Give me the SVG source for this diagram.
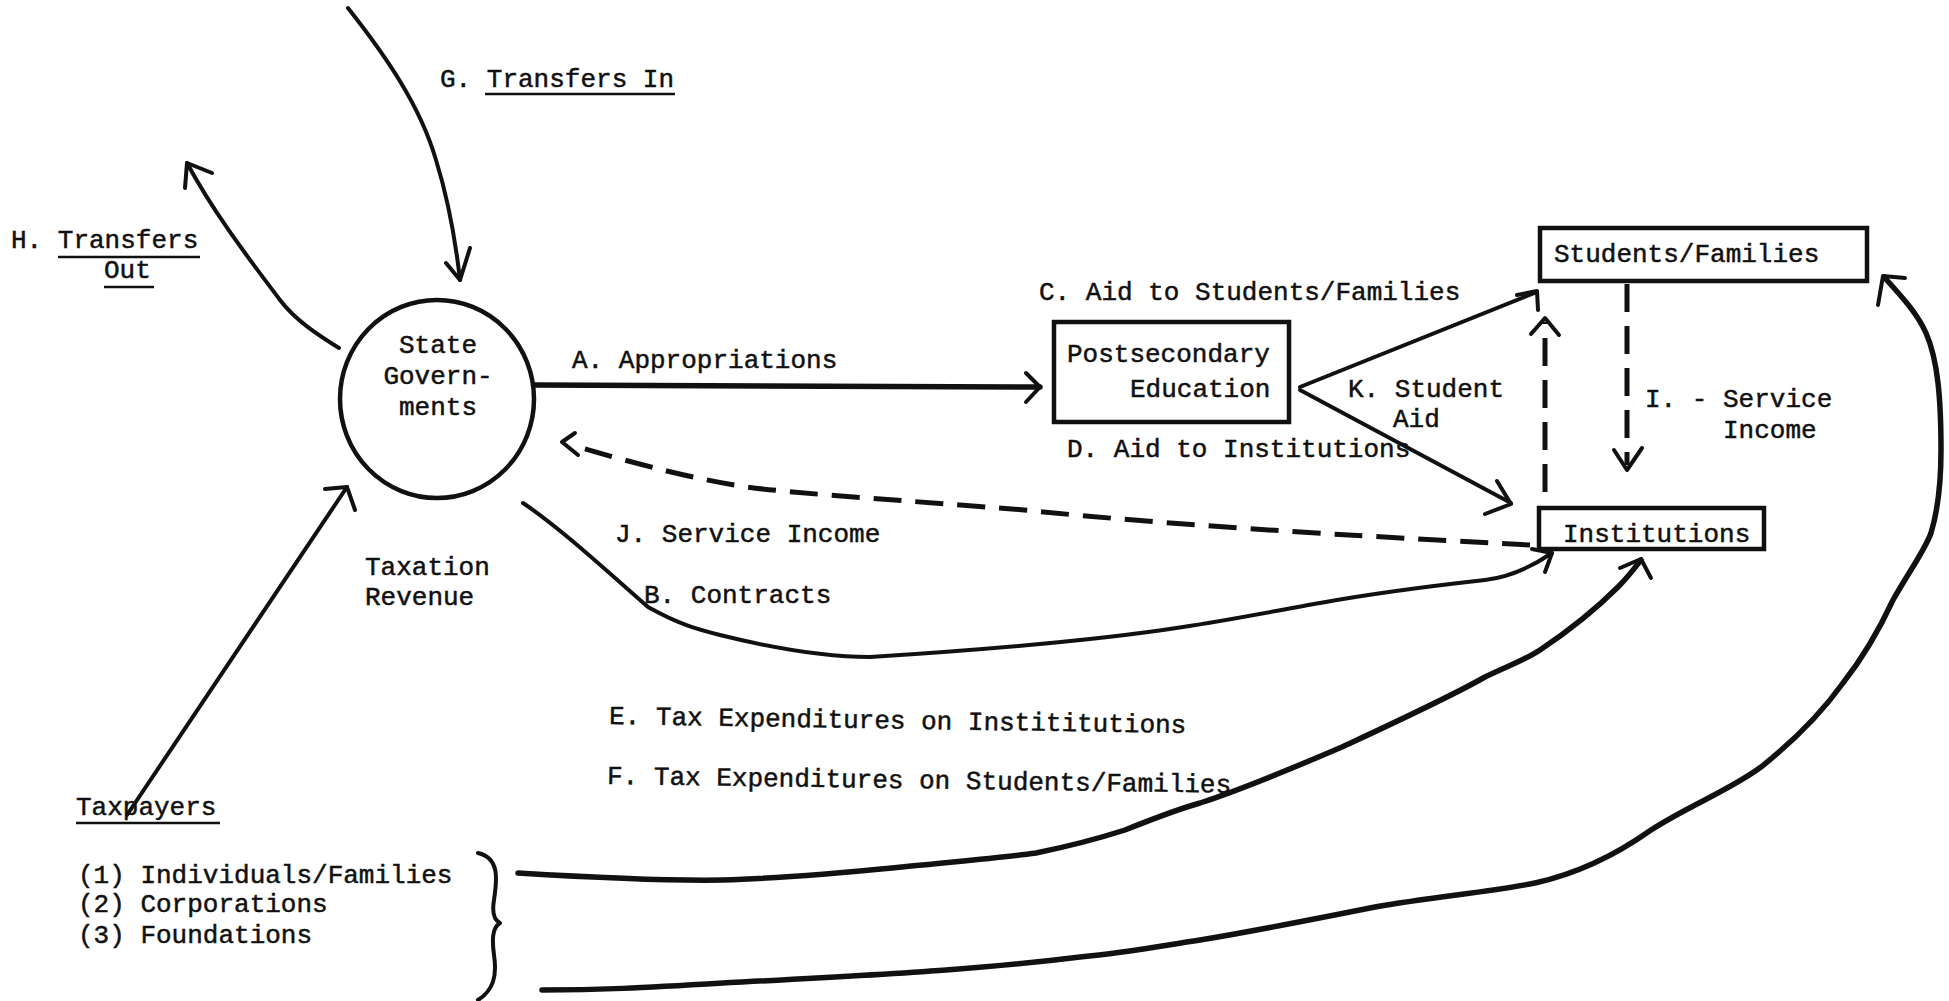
<svg xmlns="http://www.w3.org/2000/svg" width="1949" height="1001" viewBox="0 0 1949 1001">
<style>
text{font-family:"Liberation Mono","DejaVu Sans Mono",monospace;font-size:26px;fill:#111;stroke:#111;stroke-width:0.5}
.ln{fill:none;stroke:#111;stroke-width:4;stroke-linecap:round;stroke-linejoin:round}
.thick{stroke-width:5.5}
.dash{stroke-dasharray:28 14;stroke-width:5;stroke-linecap:butt}
.ul{stroke:#111;stroke-width:2.5}
.box{fill:none;stroke:#111;stroke-width:4.5}
</style>
<rect width="1949" height="1001" fill="#fff"/>
<g id="state-governments">
<ellipse class="box" cx="437" cy="399" rx="97" ry="99"/>
<text x="438" y="353" text-anchor="middle">State</text>
<text x="438" y="384" text-anchor="middle">Govern-</text>
<text x="438" y="415" text-anchor="middle">ments</text>
</g>
<g id="postsecondary-education">
<rect class="box" x="1054" y="322" width="235" height="100"/>
<text x="1067" y="362">Postsecondary</text>
<text x="1130" y="397">Education</text>
</g>
<g id="students-families">
<rect class="box" x="1540" y="228" width="327" height="53"/>
<text x="1554" y="262">Students/Families</text>
</g>
<g id="institutions">
<rect class="box" x="1539" y="508" width="225" height="41"/>
<text x="1563" y="542">Institutions</text>
</g>
<g id="taxpayers">
<text x="76" y="815">Taxpayers</text>
<line class="ul" x1="76" y1="823" x2="220" y2="823"/>
<text x="78" y="883">(1) Individuals/Families</text>
<text x="78" y="912">(2) Corporations</text>
<text x="78" y="943">(3) Foundations</text>
<path class="ln" d="M478 853 C500 858 497 880 494 900 C492 912 494 920 500 923 C492 928 492 940 494 955 C497 975 494 990 478 1000"/>
</g>
<g id="labels">
<text x="440" y="87">G. Transfers In</text>
<line class="ul" x1="485" y1="94" x2="675" y2="94"/>
<text x="11" y="248">H. Transfers</text>
<line class="ul" x1="58" y1="257" x2="200" y2="257"/>
<text x="104" y="278">Out</text>
<line class="ul" x1="104" y1="287" x2="154" y2="287"/>
<text x="572" y="368">A. Appropriations</text>
<text x="365" y="575">Taxation</text>
<text x="365" y="605">Revenue</text>
<text x="615" y="542">J. Service Income</text>
<text x="644" y="603">B. Contracts</text>
<text x="1039" y="300">C. Aid to Students/Families</text>
<text x="1348" y="397">K. Student</text>
<text x="1393" y="427">Aid</text>
<text x="1067" y="457">D. Aid to Institutions</text>
<text x="1645" y="407">I. - Service</text>
<text x="1723" y="438">Income</text>
<text x="609" y="724" transform="rotate(0.9 609 724)">E. Tax Expenditures on Instititutions</text>
<text x="607" y="784" transform="rotate(0.8 607 784)">F. Tax Expenditures on Students/Families</text>
</g>
<g id="connectors">
<!-- G transfers in -->
<path class="ln" d="M348 8 C385 55 420 105 436 160 C450 205 456 245 460 280"/>
<path class="ln" d="M446 263 L460 280 L470 248"/>
<!-- H transfers out -->
<path class="ln" d="M339 348 C318 335 295 320 280 300 C250 260 215 215 187 163"/>
<path class="ln" d="M185 188 L187 163 L212 173"/>
<!-- taxation revenue -->
<path class="ln" d="M127 815 L347 487"/>
<path class="ln" d="M325 489 L347 487 L355 510"/>
<!-- A appropriations -->
<path class="ln thick" d="M534 385 L1040 387"/>
<path class="ln" d="M1026 373 L1040 387 L1026 402"/>
<!-- J service income -->
<path class="ln dash" d="M1530 545 C1400 538 1200 528 1024 510 C900 500 800 494 746 487 C690 478 640 465 575 446"/>
<path class="ln" d="M575 433 L562 442 L578 455"/>
<!-- B contracts -->
<path class="ln" d="M523 503 C560 528 600 565 648 607 C680 625 700 630 720 635 C780 650 830 657 870 657 C980 650 1100 640 1183 627 C1230 620 1280 610 1320 603 C1380 592 1440 585 1485 580 C1510 577 1530 568 1552 553"/>
<path class="ln" d="M1532 549 L1552 553 L1545 572"/>
<!-- C aid to students -->
<path class="ln" d="M1300 387 L1537 292"/>
<path class="ln" d="M1517 295 L1537 291 L1538 310"/>
<!-- D aid to institutions -->
<path class="ln" d="M1300 390 L1511 503"/>
<path class="ln" d="M1497 481 L1511 504 L1485 514"/>
<!-- K student aid (dashed up) -->
<path class="ln dash" d="M1545 492 L1545 322"/>
<path class="ln" d="M1531 334 L1545 318 L1559 335"/>
<!-- I service income (dashed down) -->
<path class="ln dash" d="M1627 284 L1627 465"/>
<path class="ln" d="M1614 450 L1627 470 L1642 448"/>
<!-- E tax expenditures on institutions -->
<path class="ln thick" d="M518 873 C600 878 660 881 723 880 C790 878 850 872 902 867 C950 862 1000 858 1036 853 C1070 846 1100 838 1125 830 C1150 820 1175 810 1200 803 C1240 790 1300 765 1342 747 C1400 720 1450 697 1485 677 C1510 665 1525 660 1540 650 C1570 630 1600 605 1618 587 C1630 575 1636 566 1641 560"/>
<path class="ln" d="M1620 568 L1641 559 L1651 578"/>
<!-- F tax expenditures on students/families -->
<path class="ln thick" d="M542 990 C600 990 640 988 723 983 C800 979 880 975 946 970 C1000 966 1040 962 1080 957 C1130 952 1160 946 1200 940 C1260 930 1320 918 1375 907 C1430 897 1490 892 1535 883 C1580 873 1620 852 1651 830 C1690 805 1730 790 1761 767 C1795 740 1820 715 1843 683 C1865 655 1880 628 1893 600 C1910 570 1925 550 1931 533 C1938 510 1941 480 1941 450 C1941 400 1938 360 1926 333 C1918 315 1905 300 1884 277"/>
<path class="ln" d="M1878 305 L1883 276 L1905 278"/>
</g>
</svg>
